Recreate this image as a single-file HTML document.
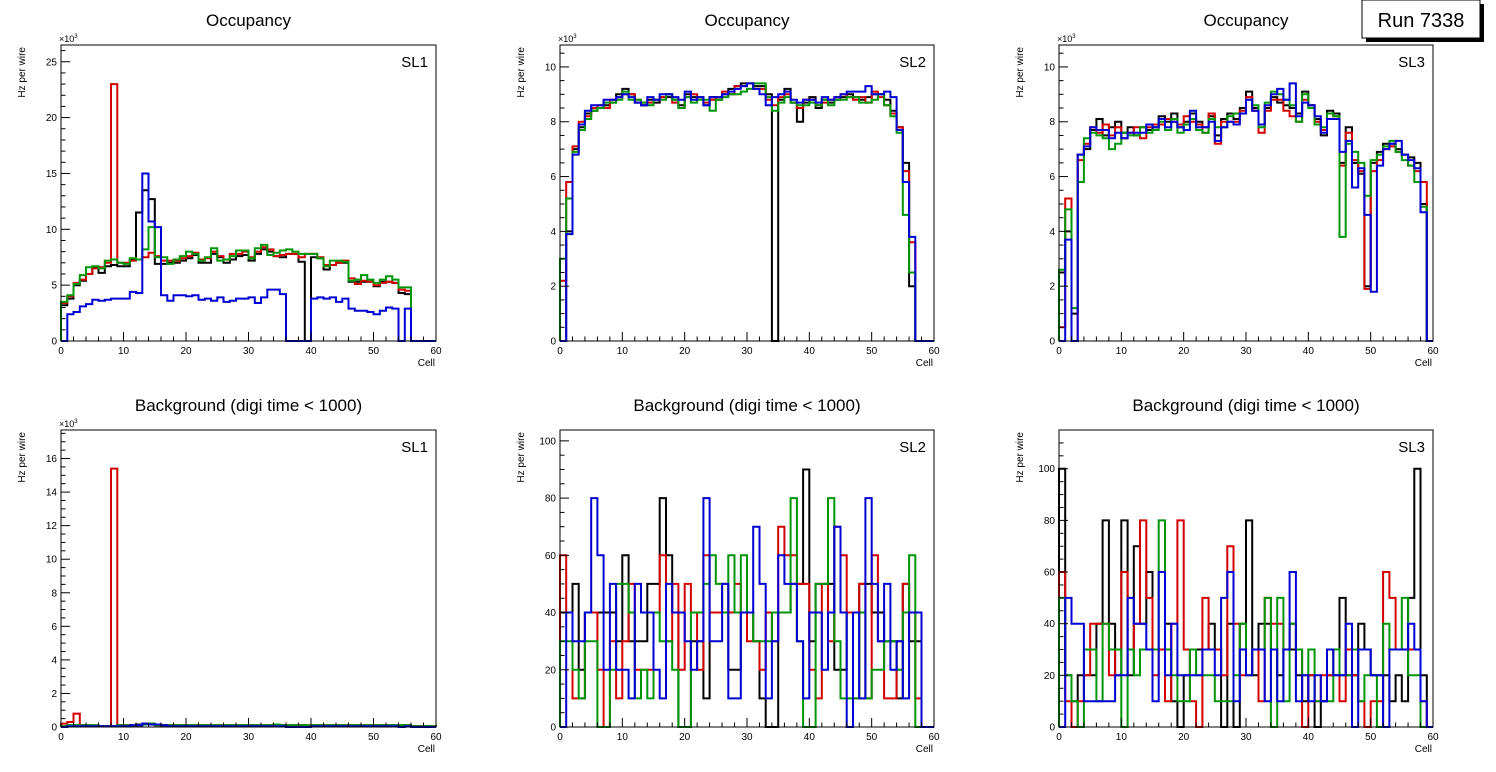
<!DOCTYPE html>
<html><head><meta charset="utf-8"><style>
html,body{margin:0;padding:0;background:#fff;}
svg{display:block;font-family:"Liberation Sans",sans-serif;}
</style></head><body>
<svg id="c" width="1496" height="772" viewBox="0 0 1496 772">
<g>
<rect x="1366" y="4" width="118" height="38" fill="#000"/>
<rect x="1362" y="0" width="118" height="38" fill="#fff" stroke="#000" stroke-width="1"/>
<text x="1421" y="27" font-size="20" text-anchor="middle">Run 7338</text>
</g>
</svg>
<script>
// ---- data (values per cell, bins 0..59) ----
const cells = Array.from({length:60},(_,i)=>i);
const occSL1Black=[3.2,3.8,5.0,5.4,6.0,6.6,6.1,6.7,6.8,6.7,6.7,7.3,11.5,13.5,12.7,6.9,6.9,7.0,7.0,7.2,7.4,7.7,7.0,7.0,7.8,7.5,7.0,7.3,7.6,7.7,7.2,7.8,8.2,8.0,7.6,7.5,7.8,7.8,7.1,0,7.5,7.4,6.4,6.8,7.0,7.0,5.3,5.3,5.3,5.3,4.9,5.3,5.3,5.2,4.3,4.2,0,0,0,0];
const occSL1Red=[3.4,4.0,5.2,5.5,6.0,6.5,6.6,7.0,23.0,7.0,7.0,7.2,7.3,7.5,7.9,7.6,7.2,7.2,7.2,7.4,7.6,7.9,7.3,7.4,8.0,7.6,7.3,7.8,7.8,8.0,7.5,8.0,8.4,8.2,7.6,7.7,7.8,7.8,7.5,7.8,7.8,7.5,6.8,6.8,7.0,7.2,5.6,5.1,5.4,5.3,5.0,5.2,5.3,5.2,4.6,4.5,0,0,0,0];
const occSL1Green=[3.5,4.1,5.1,5.9,6.6,6.7,6.5,7.2,7.3,7.0,6.9,7.4,7.3,8.2,10.2,7.5,7.5,6.9,7.3,7.6,8.0,7.8,7.2,7.5,8.3,7.2,7.3,7.6,8.1,8.1,7.4,8.3,8.6,7.7,7.9,8.1,8.2,8.0,7.8,7.8,7.8,7.4,6.7,7.2,7.2,7.1,5.4,5.5,5.9,5.5,5.2,5.5,5.8,5.5,4.8,4.8,0,0,0,0];
const occSL1Blue=[0,2.4,2.6,3.1,3.3,3.7,3.6,3.7,3.8,3.8,3.8,4.4,4.3,15.0,10.7,10.2,4.1,3.6,4.1,4.1,4.0,4.1,3.7,3.8,3.6,3.9,3.5,3.6,3.8,3.8,3.9,3.4,3.9,4.6,4.6,4.2,0,0,0,0,3.8,3.9,3.8,3.9,3.5,3.8,2.9,2.7,2.7,2.6,2.4,2.7,3.0,2.9,0,2.9,0,0,0,0];
const occSL2Black=[0,4.0,7.0,7.8,8.3,8.4,8.5,8.6,8.7,9.0,9.2,9.0,8.7,8.6,8.8,8.7,8.9,8.9,8.8,8.6,9.0,8.9,8.9,8.6,8.9,8.8,9.0,9.2,9.3,9.4,9.4,9.3,9.3,9.0,0,8.8,9.2,8.7,8.0,8.7,8.9,8.5,8.8,8.7,8.8,8.9,9.0,8.9,8.8,8.9,9.0,9.0,8.8,8.4,7.8,6.5,2.0,0,0,0];
const occSL2Red=[2.2,5.8,7.1,8.0,8.2,8.5,8.6,8.5,8.8,8.9,9.0,9.0,8.8,8.7,8.7,8.8,8.9,9.0,8.7,8.5,8.9,9.0,8.9,8.7,8.8,8.9,9.1,9.0,9.3,9.3,9.4,9.2,9.2,8.8,8.6,8.9,9.0,8.7,8.5,8.8,8.8,8.6,8.7,8.8,8.9,9.0,8.9,8.8,8.9,8.7,9.1,8.9,8.6,8.3,7.8,6.2,3.6,0,0,0];
const occSL2Green=[3.0,5.2,6.9,7.7,8.1,8.4,8.5,8.7,8.7,8.8,9.1,8.8,8.8,8.7,8.6,8.8,8.8,9.0,8.8,8.5,8.9,8.7,8.8,8.8,8.4,8.8,8.9,9.0,9.0,9.1,9.2,9.4,9.4,8.9,8.4,8.7,8.9,8.7,8.6,8.6,8.7,8.6,8.8,8.6,8.8,8.8,8.9,8.9,8.7,8.7,8.8,9.0,8.6,8.2,7.6,4.6,2.5,0,0,0];
const occSL2Blue=[0,3.9,6.8,7.9,8.4,8.6,8.6,8.8,8.8,8.9,9.0,8.9,8.7,8.6,8.9,8.8,9.0,9.0,8.9,8.8,9.1,8.8,8.9,8.6,8.9,8.9,9.0,9.1,9.2,9.3,9.4,9.2,9.0,8.6,8.9,9.0,9.1,8.8,8.7,8.8,8.8,8.7,8.9,8.8,8.9,9.0,9.1,9.1,9.1,9.3,9.0,9.0,9.1,8.9,7.7,5.8,3.8,0,0,0];
const occSL3Black=[2.5,4.0,1.0,6.8,7.0,7.7,8.1,7.5,7.8,8.0,7.6,7.8,7.5,7.8,7.7,7.8,8.2,8.0,8.3,7.8,8.0,8.3,8.0,7.8,8.2,7.5,8.1,8.3,8.1,8.5,9.1,8.5,7.9,8.5,8.9,8.7,8.6,8.5,8.3,9.1,8.6,8.1,7.5,8.4,8.3,6.5,7.8,6.5,6.1,2.0,6.5,6.9,7.2,7.2,7.0,6.8,6.7,6.5,5.0,0];
const occSL3Red=[0.5,5.2,0,6.6,7.2,7.8,7.6,7.9,7.5,7.8,7.4,7.6,7.8,7.4,7.8,7.9,7.9,8.1,8.0,7.9,8.2,8.0,7.9,7.6,8.3,7.2,8.0,8.0,8.0,8.4,8.9,8.4,7.6,8.4,8.8,8.8,8.4,8.2,8.0,8.8,8.6,8.0,7.7,8.3,8.2,6.4,7.6,6.6,6.2,1.9,6.2,6.6,7.0,7.1,6.9,6.8,6.4,6.2,5.8,0];
const occSL3Green=[2.6,4.8,1.2,5.8,7.4,7.6,7.5,7.4,7.0,7.2,7.6,7.5,7.5,7.8,7.6,7.7,8.0,7.7,8.1,7.6,7.9,8.1,7.7,7.6,8.1,7.8,7.8,8.2,8.3,8.3,8.8,8.6,7.8,8.7,9.1,9.0,8.8,8.6,8.0,9.0,8.5,7.9,7.8,8.3,8.2,3.8,7.2,6.9,6.5,5.3,6.6,6.8,7.1,7.3,6.9,6.6,6.4,5.8,4.9,0];
const occSL3Blue=[0,3.7,0,6.8,7.1,7.8,7.7,7.7,7.4,7.6,7.4,7.6,7.6,7.6,7.9,7.8,8.1,7.8,8.0,7.8,7.7,8.4,7.8,7.8,8.0,7.3,7.8,8.0,7.9,8.3,8.8,8.4,7.9,8.6,9.0,9.2,8.8,9.4,8.2,8.7,8.6,8.2,7.6,8.1,8.1,6.9,7.3,5.6,6.3,4.6,1.8,6.4,7.0,7.2,7.3,6.8,6.6,6.3,4.7,0];
const bkgSL1Black=[0.05,0.1,0.1,0.1,0.1,0.05,0.05,0.05,0.05,0.1,0.1,0.1,0.15,0.2,0.2,0.15,0.1,0.1,0.1,0.1,0.1,0.1,0.1,0.1,0.1,0.1,0.1,0.1,0.1,0.1,0.1,0.1,0.1,0.1,0.1,0.1,0.1,0.1,0.1,0.05,0.1,0.1,0.1,0.1,0.1,0.1,0.1,0.1,0.1,0.1,0.1,0.1,0.1,0.1,0.1,0.1,0.05,0.05,0.05,0.05];
const bkgSL1Red=[0.2,0.3,0.8,0.1,0.1,0.1,0.05,0.05,15.4,0.1,0.1,0.1,0.1,0.15,0.15,0.1,0.1,0.1,0.1,0.1,0.1,0.1,0.1,0.1,0.1,0.1,0.1,0.1,0.1,0.1,0.1,0.1,0.1,0.1,0.1,0.1,0.1,0.1,0.1,0.1,0.1,0.1,0.1,0.1,0.1,0.1,0.1,0.1,0.1,0.1,0.1,0.1,0.1,0.1,0.1,0.1,0.05,0.05,0.05,0.05];
const bkgSL1Green=[0.05,0.1,0.1,0.1,0.1,0.1,0.05,0.05,0.05,0.1,0.1,0.1,0.1,0.15,0.2,0.1,0.1,0.1,0.1,0.1,0.1,0.1,0.1,0.1,0.1,0.1,0.1,0.1,0.1,0.1,0.1,0.1,0.1,0.1,0.15,0.1,0.1,0.1,0.1,0.1,0.1,0.1,0.1,0.1,0.1,0.1,0.1,0.1,0.1,0.1,0.1,0.1,0.1,0.1,0.1,0.1,0.05,0.05,0.05,0.05];
const bkgSL1Blue=[0,0.05,0.05,0.05,0.05,0.05,0.05,0.05,0.05,0.05,0.05,0.1,0.1,0.2,0.15,0.15,0.1,0.05,0.05,0.05,0.05,0.05,0.05,0.05,0.05,0.05,0.05,0.05,0.05,0.05,0.05,0.05,0.05,0.05,0.05,0.05,0,0,0,0,0.05,0.05,0.05,0.05,0.05,0.05,0.05,0.05,0.05,0.05,0.05,0.05,0.05,0.05,0,0.05,0,0,0,0];
const bkgSL2Black=[40,40,50,20,40,40,40,40,40,30,60,30,30,30,50,50,80,60,40,0,0,30,30,10,40,40,40,20,20,40,40,30,10,0,0,40,40,50,50,90,30,50,50,50,20,20,40,40,50,50,40,40,30,30,10,50,30,30,0,0];
const bkgSL2Red=[60,40,10,10,40,40,20,0,30,10,30,50,20,20,20,40,60,30,50,20,50,40,20,60,40,40,50,40,50,40,30,30,20,40,30,70,60,60,50,50,20,10,50,30,70,60,40,10,50,10,60,30,10,10,30,50,40,10,0,0];
const bkgSL2Green=[30,30,20,10,30,30,0,0,20,50,50,40,10,20,10,40,30,30,20,0,0,40,40,50,60,50,40,60,40,60,40,30,30,30,40,40,40,80,30,0,0,50,50,80,30,10,10,10,40,10,20,20,30,30,20,40,60,0,0,0];
const bkgSL2Blue=[0,40,30,30,40,80,60,20,50,20,20,10,50,40,40,20,10,50,40,40,30,20,30,80,30,30,50,10,10,40,40,70,50,10,30,60,50,50,30,10,40,40,20,40,70,40,0,40,10,80,50,30,50,20,30,10,40,40,0,0];
const bkgSL3Black=[100,20,10,20,20,20,40,80,40,20,80,20,70,40,60,30,30,40,10,0,20,30,30,30,40,30,0,40,0,40,80,20,40,40,30,20,30,30,20,10,20,0,10,20,20,50,20,20,40,30,20,20,20,10,20,10,50,100,20,0];
const bkgSL3Red=[60,10,0,10,20,40,40,40,20,30,60,30,40,80,50,20,30,10,40,80,30,10,0,50,30,30,20,70,40,20,20,30,10,50,40,40,30,40,30,0,20,10,20,20,30,10,30,20,10,0,10,10,60,50,30,30,30,30,10,0];
const bkgSL3Green=[50,20,10,0,30,30,10,40,30,30,0,30,20,30,30,30,80,30,20,10,10,30,20,20,20,10,10,10,20,40,20,30,30,50,0,50,10,40,30,20,30,10,10,10,30,20,20,30,10,20,20,0,40,30,30,50,20,20,0,0];
const bkgSL3Blue=[0,50,40,40,10,10,10,10,10,20,20,50,40,40,30,10,60,20,40,20,20,20,20,30,30,20,50,60,10,30,20,30,30,10,30,10,30,60,10,20,10,20,10,30,20,20,40,0,30,30,20,20,0,30,30,30,40,30,10,0];
const xTicks=[0,10,20,30,40,50,60];
const yTicksOccSL1=[0,5,10,15,20,25];
const yTicksOccSL23=[0,2,4,6,8,10];
const yTicksBkgSL1=[0,2,4,6,8,10,12,14,16];
const yTicksBkgSL23=[0,20,40,60,80,100];

const NS="http://www.w3.org/2000/svg";
const svg=document.getElementById('c');
function mk(tag,attrs,parent){const e=document.createElementNS(NS,tag);for(const k in attrs)e.setAttribute(k,attrs[k]);(parent||svg).appendChild(e);return e;}

const colors=['#000000','#d40000','#00960a','#0000d4'];
const panels=[
 {key:'occ-sl1',title:'Occupancy',sl:'SL1',x0:61,x1:436,y0:45,y1:341,ymax:26.5,major:5,minor:1,ticks:yTicksOccSL1,exp:true,series:[occSL1Black,occSL1Red,occSL1Green,occSL1Blue]},
 {key:'occ-sl2',title:'Occupancy',sl:'SL2',x0:560,x1:934,y0:45,y1:341,ymax:10.8,major:2,minor:0.5,ticks:yTicksOccSL23,exp:true,series:[occSL2Black,occSL2Red,occSL2Green,occSL2Blue]},
 {key:'occ-sl3',title:'Occupancy',sl:'SL3',x0:1059,x1:1433,y0:45,y1:341,ymax:10.8,major:2,minor:0.5,ticks:yTicksOccSL23,exp:true,series:[occSL3Black,occSL3Red,occSL3Green,occSL3Blue]},
 {key:'bkg-sl1',title:'Background (digi time < 1000)',sl:'SL1',x0:61,x1:436,y0:430,y1:727,ymax:17.7,major:2,minor:0.5,ticks:yTicksBkgSL1,exp:true,series:[bkgSL1Black,bkgSL1Red,bkgSL1Green,bkgSL1Blue]},
 {key:'bkg-sl2',title:'Background (digi time < 1000)',sl:'SL2',x0:560,x1:934,y0:430,y1:727,ymax:103.8,major:20,minor:5,ticks:yTicksBkgSL23,exp:false,series:[bkgSL2Black,bkgSL2Red,bkgSL2Green,bkgSL2Blue]},
 {key:'bkg-sl3',title:'Background (digi time < 1000)',sl:'SL3',x0:1059,x1:1433,y0:430,y1:727,ymax:115,major:20,minor:5,ticks:yTicksBkgSL23,exp:false,series:[bkgSL3Black,bkgSL3Red,bkgSL3Green,bkgSL3Blue]}
];
const seriesNames=['black','red','green','blue'];

panels.forEach(p=>{
  const g=mk('g',{});
  
  
  const X=v=>p.x0+(p.x1-p.x0)*v/60;
  const Y=v=>p.y1-(p.y1-p.y0)*Math.min(v,p.ymax)/p.ymax;
  const cx=(p.x0+p.x1)/2;
  const t=mk('text',{x:cx,y:p.y0-19,'font-size':17,'text-anchor':'middle'},g);t.textContent=p.title;
  
  // histograms
  p.series.forEach((arr,si)=>{
    let d='M'+X(0)+','+Y(0);
    for(let i=0;i<cells.length;i++){d+=' V'+Y(arr[i]).toFixed(1)+' H'+X(i+1).toFixed(1);}
    d+=' V'+Y(0);
    const path=mk('path',{d:d,fill:'none',stroke:colors[si],'stroke-width':2},g);
    
    
  });
  // frame
  const fr=mk('rect',{x:p.x0,y:p.y0,width:p.x1-p.x0,height:p.y1-p.y0,fill:'none',stroke:'#000','stroke-width':1},g);
  
  // x ticks
  for(let v=0;v<=60;v+=2){const maj=v%10===0;mk('line',{x1:X(v),x2:X(v),y1:p.y1,y2:p.y1-(maj?9:4.5),stroke:'#000','stroke-width':1},g);}
  xTicks.forEach(v=>{const tl=mk('text',{x:X(v),y:p.y1+13,'font-size':10,'text-anchor':'middle'},g);tl.textContent=v;
    });
  const xl=mk('text',{x:p.x1-1,y:p.y1+25,'font-size':10,'text-anchor':'end'},g);xl.textContent='Cell';
  
  // y ticks
  for(let v=0;v<=p.ymax+1e-9;v+=p.minor){const maj=Math.abs(v/p.major-Math.round(v/p.major))<1e-6;mk('line',{x1:p.x0,x2:p.x0+(maj?9:4.5),y1:Y(v),y2:Y(v),stroke:'#000','stroke-width':1},g);}
  p.ticks.forEach(v=>{const tl=mk('text',{x:p.x0-4,y:Y(v)+3.5,'font-size':10,'text-anchor':'end'},g);tl.textContent=v;
    });
  if(p.exp){const e=mk('text',{x:p.x0-2,y:p.y0-3,'font-size':9},g);e.innerHTML='×10<tspan dy="-4" font-size="6">3</tspan>';
    }
  const yt=mk('text',{x:0,y:0,'font-size':10,'text-anchor':'end',transform:'translate('+(p.x0-36)+','+(p.y0+2)+') rotate(-90)'},g);yt.textContent='Hz per wire';
  
  const sl=mk('text',{x:p.x1-8,y:p.y0+22,'font-size':15,'text-anchor':'end'},g);sl.textContent=p.sl;
  
});
</script>
</body></html>
